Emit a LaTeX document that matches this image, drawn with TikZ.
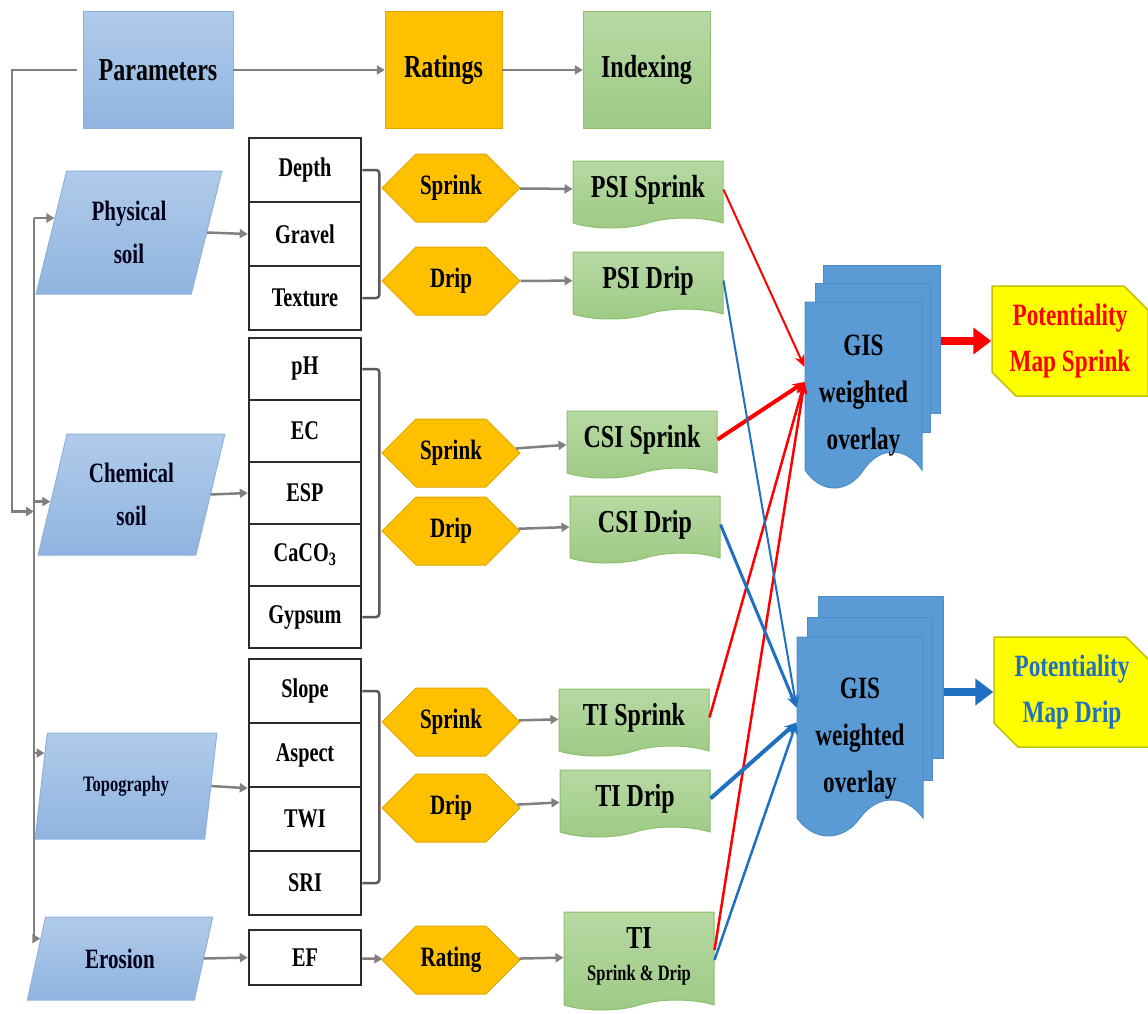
\documentclass[tikz,border=0pt]{standalone}
\usepackage{fontspec}
\setmainfont[FakeStretch=0.75]{Liberation Serif}
\usetikzlibrary{positioning, arrows.meta, shapes.geometric, shapes.symbols, shapes.misc}

\definecolor{partop}{HTML}{B0CBEA}
\definecolor{parbot}{HTML}{90B4E0}
\definecolor{paredge}{HTML}{8EB0DB}
\definecolor{rateorange}{HTML}{FFC000}
\definecolor{rateedge}{HTML}{E0A800}
\definecolor{idxtop}{HTML}{B7D9A3}
\definecolor{idxbot}{HTML}{9DCA85}
\definecolor{idxedge}{HTML}{8CC06C}
\definecolor{gisblue}{HTML}{5B9BD5}
\definecolor{gisedge}{HTML}{4F8CC6}
\definecolor{mapyellow}{HTML}{FFFF00}
\definecolor{mapedge}{HTML}{C2C200}
\definecolor{dripblue}{HTML}{1F70C1}
\definecolor{linkgray}{HTML}{808080}
\definecolor{cellgray}{HTML}{2B2B2B}

\newcommand{\gislabel}[1]{\raisebox{#1}[\height][\depth]{%
    \begin{tabular}{@{}c@{}}GIS\\weighted\\overlay\end{tabular}}}

\tikzset{
    head box/.style={rectangle, minimum height=117pt, inner sep=0pt,
        font=\fontsize{32}{36}\selectfont\bfseries},
    soil/.style 2 args={trapezium, trapezium stretches=true,
        trapezium left angle=#1, trapezium right angle=#2,
        top color=partop, bottom color=parbot, draw=paredge, line width=1pt,
        inner sep=0pt, align=center, text=black!90!blue},
    cell/.style={rectangle, draw=cellgray, line width=2.5pt, fill=white,
        minimum width=112pt, inner sep=0pt,
        font=\fontsize{27}{30}\selectfont\bfseries},
    rate/.style={signal, signal to=west and east, signal pointer angle=90,
        fill=rateorange, draw=rateedge, line width=1pt,
        minimum width=138pt, minimum height=68pt, inner sep=0pt,
        font=\fontsize{28}{32}\selectfont\bfseries},
    index/.style={tape, tape bend top=none, tape bend bottom=in and out, tape bend height=10pt,
        top color=idxtop, bottom color=idxbot, draw=idxedge, line width=1pt,
        minimum width=150pt, minimum height=67pt, inner sep=0pt, align=center,
        font=\fontsize{32}{36}\selectfont\bfseries},
    sheet/.style={rectangle, fill=gisblue, draw=gisedge, line width=1pt, inner sep=0pt},
    sheet front/.style={tape, tape bend top=none, tape bend bottom=in and out, tape bend height=36pt,
        fill=gisblue, draw=gisedge, line width=1pt, inner sep=0pt,
        font=\fontsize{31}{47}\selectfont\bfseries},
    potent/.style={chamfered rectangle, chamfered rectangle corners={north east, south west},
        chamfered rectangle xsep=12pt, chamfered rectangle ysep=12pt,
        fill=mapyellow, draw=mapedge, line width=1.5pt,
        minimum width=156pt, minimum height=110pt, inner sep=0pt, align=center,
        font=\fontsize{31}{46}\selectfont\bfseries},
    link/.style={draw=linkgray, line width=2.5pt},
    bracket/.style={draw=black!65, line width=2.5pt, rounded corners=3pt},
    sprink line/.style={draw=red, line width=2pt, -{Stealth[length=12pt, width=10pt]}},
    drip line/.style={draw=dripblue, line width=2pt, -{Stealth[length=12pt, width=10pt]}},
    big arrow/.style={line width=8pt, -{Triangle[length=18pt, width=26pt]}}
}

\begin{document}
\begin{tikzpicture}[x=1pt, y=-1pt, >={Triangle[length=8pt, width=9pt]}]

\useasboundingbox (0,0) rectangle (1148,1014);

\node [head box, minimum width=150pt, top color=partop, bottom color=parbot, draw=paredge]
    (param) at (158,70) {Parameters};
\node [head box, minimum width=117pt, fill=rateorange, draw=rateedge]
    (rating) at (443.5,70) {Ratings};
\node [head box, minimum width=127pt, top color=idxtop, bottom color=idxbot, draw=idxedge]
    (index) at (646.5,70) {Indexing};

\draw [link, ->] (param) -- (rating);
\draw [link, ->] (rating) -- (index);

\node [soil={73.7}{106.3}, minimum width=186pt, minimum height=123pt,
    font=\fontsize{28}{43}\selectfont\bfseries] (phys) at (129,232.5) {Physical\\soil};
\node [soil={73}{107}, minimum width=187pt, minimum height=121pt,
    font=\fontsize{28}{43}\selectfont\bfseries] (chem) at (131.5,494.5) {Chemical\\soil};
\node [soil={71.7}{108.3}, minimum width=182pt, minimum height=106pt,
    font=\fontsize{22}{26}\selectfont\bfseries] (topo) at (126,786) {Topography};
\node [soil={66.6}{113.4}, minimum width=186pt, minimum height=83pt,
    font=\fontsize{28}{32}\selectfont\bfseries] (ero) at (120,958.5) {Erosion};

\foreach \l [count=\i] in {Depth, Gravel, Texture}
    \node [cell, minimum height=64pt] (phys-\i) at (305, 106+64*\i) {\l};

\foreach \l [count=\i] in {pH, EC, ESP, CaCO\textsubscript{3}, Gypsum}
    \node [cell, minimum height=62pt] (chem-\i) at (305, 307+62*\i) {\l};

\foreach \l [count=\i] in {Slope, Aspect, TWI, SRI}
    \node [cell, minimum height=64pt] (topo-\i) at (305, 627+64*\i) {\l};

\node [cell, minimum height=55pt] (ef) at (305,957.5) {EF};

\foreach \g/\k in {phys/3, chem/5, topo/4}
    \draw [bracket] (\g-1.east) -- ++(17,0) |- (\g-\k.east);

\coordinate (bus) at (34,0);
\coordinate (trunk) at (12,0);
\coordinate (join) at ([yshift=-17pt]bus |- chem.center);

\draw [link] (bus |- phys.169) -- (bus |- ero.166);
\foreach \n/\a in {phys/169, chem/185, topo/158, ero/166}
    \draw [link, ->] (bus |- \n.\a) -- (\n.\a);
\draw [link, ->] ([xshift=-6pt]param.west) -| (trunk |- join) -- (join);

\draw [link, ->] (phys.east) -- (phys-2.west);
\draw [link, ->] (chem.east) -- (chem-3.west);
\draw [link, ->] (topo.east) -- (topo-2.south west);
\draw [link, ->] (ero.east) -- (ef.west);

\foreach \n/\l/\y in {phys-s/Sprink/188, phys-d/Drip/281, chem-s/Sprink/453, chem-d/Drip/531,
        topo-s/Sprink/722, topo-d/Drip/808, ero-r/Rating/960}
    \node [rate] (rate-\n) at (451,\y) {\l};

\draw [link, ->] (ef) -- (rate-ero-r);

\foreach \n/\l/\x/\y in {psi-s/PSI Sprink/648/189.5, psi-d/PSI Drip/648/280.5,
        csi-s/CSI Sprink/642/439.5, csi-d/CSI Drip/645/524.5,
        ti-s/TI Sprink/634/717.5, ti-d/TI Drip/635/798.5}
    \node [index] (\n) at (\x,\y) {\l};
\node [index, minimum height=98pt] (ti-sd) at (639,956)
    {TI\\[-4pt]{\fontsize{22}{26}\selectfont Sprink \& Drip}};

\foreach \r/\n in {phys-s/psi-s, phys-d/psi-d, chem-s/csi-s, chem-d/csi-d,
        topo-s/ti-s, topo-d/ti-d, ero-r/ti-sd}
    \draw [link, ->] (rate-\r) -- (\n);

\node [sheet, minimum width=117pt, minimum height=148pt] (sgis-3) at (881.5,339) {};
\node [sheet, minimum width=115pt, minimum height=149pt] (sgis-2) at (872.5,357.5) {};
\node [sheet front, minimum width=117pt, minimum height=186pt] (sgis-1) at (863.5,377)
    {\gislabel{-16pt}};

\node [sheet, minimum width=125pt, minimum height=162pt] (dgis-3) at (880.5,677) {};
\node [sheet, minimum width=125pt, minimum height=163pt] (dgis-2) at (869.5,698.5) {};
\node [sheet front, minimum width=126pt, minimum height=199pt] (dgis-1) at (860,718.5)
    {\gislabel{-18pt}};

\node [potent, text=red] (pot-s) at (1070,341) {Potentiality\\Map Sprink};
\node [potent, text=dripblue] (pot-d) at (1072,692) {Potentiality\\Map Drip};

\draw [big arrow, red] (sgis-3.east |- pot-s.west) -- (pot-s.west);
\draw [big arrow, dripblue] (dgis-3.east |- pot-d.west) -- (pot-d.west);

\draw [sprink line] (psi-s.east) -- ([yshift=10pt]sgis-1.west);
\draw [sprink line, line width=4pt] (csi-s.east) -- ([yshift=-5pt]sgis-1.west);
\draw [sprink line, line width=2.5pt] (ti-s.east) -- ([yshift=-5pt]sgis-1.west);
\draw [sprink line, line width=2.5pt] ([yshift=6pt]ti-sd.east) -- ([yshift=-5pt]sgis-1.west);

\draw [drip line] (psi-d.east) -- ([yshift=11pt]dgis-1.west);
\draw [drip line, line width=3pt] (csi-d.east) -- ([yshift=11pt]dgis-1.west);
\draw [drip line, line width=4pt] (ti-d.east) -- ([yshift=-4pt]dgis-1.west);
\draw [drip line, line width=2.5pt] ([yshift=-4pt]ti-sd.east) -- ([yshift=-4pt]dgis-1.west);

\end{tikzpicture}
\end{document}
